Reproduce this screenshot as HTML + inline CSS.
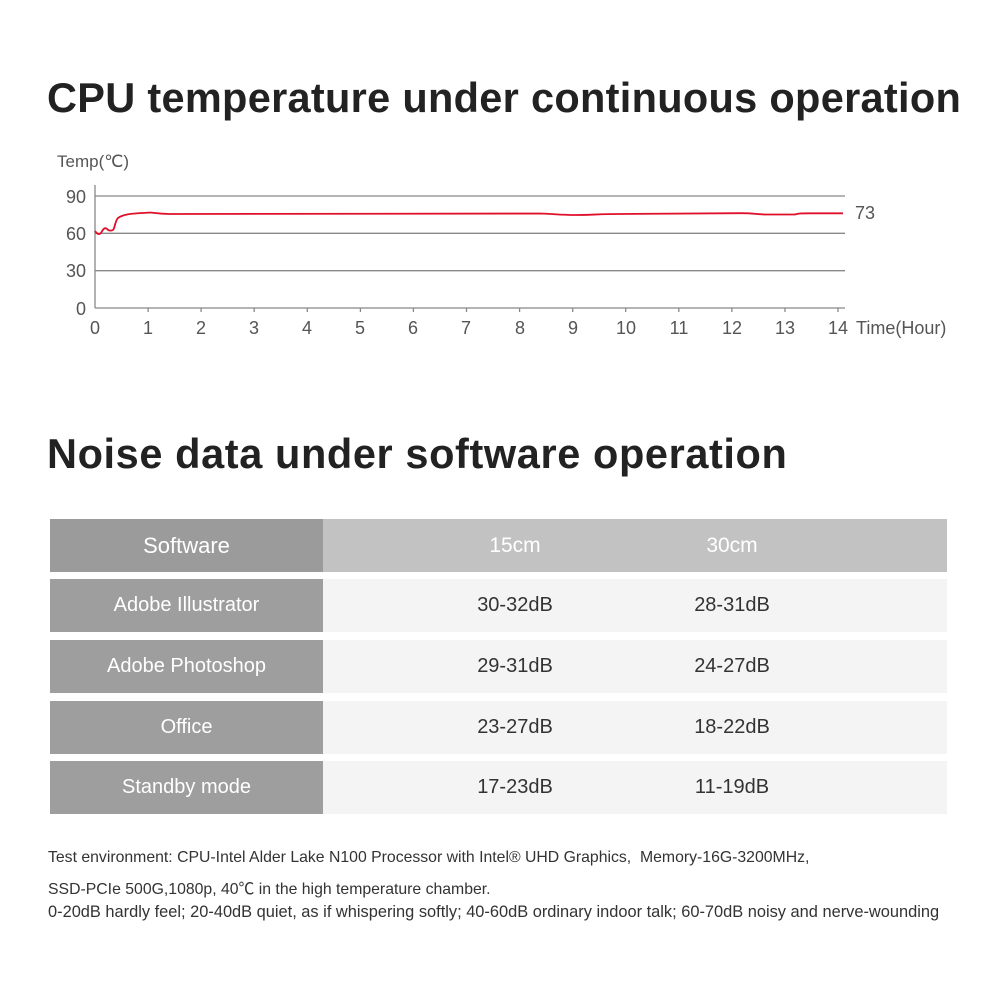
<!DOCTYPE html>
<html><head><meta charset="utf-8"><style>
body{margin:0;width:1000px;height:1000px;background:#fff;position:relative;font-family:"Liberation Sans","Noto Sans CJK SC",sans-serif;overflow:hidden}
.t{position:absolute;left:47px;font-size:41.5px;font-weight:bold;color:#222;white-space:nowrap;letter-spacing:0.6px}
.r{position:absolute;left:50px;width:897px;height:53px;display:flex}
.r div{display:flex;align-items:center;font-size:20px}
.l{width:273px;background:#9e9e9e;color:#fff;justify-content:center}
.v{flex:1;background:#f4f4f4;color:#333}
.v span{position:absolute;transform:translateX(-50%)}
.n{position:absolute;left:48px;font-size:15.8px;color:#333;white-space:nowrap}
</style></head><body>
<div class="t" style="top:74px;letter-spacing:0.3px">CPU temperature under continuous operation</div>
<svg style="position:absolute;left:0;top:0" width="1000" height="360" font-family="Liberation Sans, sans-serif" fill="#555">
<text x="57" y="167" font-size="17">Temp(℃)</text>
<g stroke="#888" stroke-width="1.3">
<line x1="95" y1="196" x2="845" y2="196"/><line x1="95" y1="233.3" x2="845" y2="233.3"/><line x1="95" y1="270.7" x2="845" y2="270.7"/><line x1="95" y1="308" x2="845" y2="308"/>
<line x1="95" y1="185" x2="95" y2="308"/>
</g>
<g stroke="#888" stroke-width="1.3">
<line x1="148.1" y1="308" x2="148.1" y2="312"/><line x1="201.1" y1="308" x2="201.1" y2="312"/><line x1="254.2" y1="308" x2="254.2" y2="312"/><line x1="307.3" y1="308" x2="307.3" y2="312"/><line x1="360.4" y1="308" x2="360.4" y2="312"/><line x1="413.4" y1="308" x2="413.4" y2="312"/><line x1="466.5" y1="308" x2="466.5" y2="312"/><line x1="519.6" y1="308" x2="519.6" y2="312"/><line x1="572.7" y1="308" x2="572.7" y2="312"/><line x1="625.7" y1="308" x2="625.7" y2="312"/><line x1="678.8" y1="308" x2="678.8" y2="312"/><line x1="731.9" y1="308" x2="731.9" y2="312"/><line x1="785" y1="308" x2="785" y2="312"/><line x1="838" y1="308" x2="838" y2="312"/>
</g>
<g font-size="18" text-anchor="end"><text x="86" y="203">90</text><text x="86" y="240">60</text><text x="86" y="277">30</text><text x="86" y="315">0</text></g>
<g font-size="18" text-anchor="middle"><text x="95" y="334">0</text><text x="148" y="334">1</text><text x="201" y="334">2</text><text x="254" y="334">3</text><text x="307" y="334">4</text><text x="360" y="334">5</text><text x="413" y="334">6</text><text x="466" y="334">7</text><text x="520" y="334">8</text><text x="573" y="334">9</text><text x="626" y="334">10</text><text x="679" y="334">11</text><text x="732" y="334">12</text><text x="785" y="334">13</text><text x="838" y="334">14</text></g>
<text x="856" y="334" font-size="18">Time(Hour)</text>
<text x="855" y="219" font-size="18">73</text>
<path d="M95,231 C97,234 99,235 101,233 C103,229 105,227 107,229 C109,231 111,231 113,230 C115,228 115,221 118,218 C122,215 128,214 135,213.5 C140,213 145,213 150,212.5 C155,213 160,214 170,214 L540,213.5 C555,214 560,215 575,215 C590,215 600,214 620,214 L740,213.2 C750,213 755,214 765,214.5 L795,214.5 C798,213.5 800,213.3 810,213.3 L843,213.3" fill="none" stroke="#e0102a" stroke-width="1.8"/>
</svg>
<div class="t" style="top:430px">Noise data under software operation</div>
<div class="r" style="top:519px"><div class="l" style="background:#9b9b9b;font-size:22px">Software</div><div class="v" style="background:#c2c2c2;color:#fff;font-size:21px"><span style="left:465px">15cm</span><span style="left:682px">30cm</span></div></div>
<div class="r" style="top:579px"><div class="l">Adobe Illustrator</div><div class="v"><span style="left:465px">30-32dB</span><span style="left:682px">28-31dB</span></div></div>
<div class="r" style="top:640px"><div class="l">Adobe Photoshop</div><div class="v"><span style="left:465px">29-31dB</span><span style="left:682px">24-27dB</span></div></div>
<div class="r" style="top:701px"><div class="l">Office</div><div class="v"><span style="left:465px">23-27dB</span><span style="left:682px">18-22dB</span></div></div>
<div class="r" style="top:761px"><div class="l">Standby mode</div><div class="v"><span style="left:465px">17-23dB</span><span style="left:682px">11-19dB</span></div></div>
<div class="n" style="top:849px">Test environment: CPU-Intel Alder Lake N100 Processor with Intel® UHD Graphics,&nbsp; Memory-16G-3200MHz,</div>
<div class="n" style="top:876px">SSD-PCIe 500G,1080p, 40℃ in the high temperature chamber.</div>
<div class="n" style="top:903px;font-size:16.4px">0-20dB hardly feel; 20-40dB quiet, as if whispering softly; 40-60dB ordinary indoor talk; 60-70dB noisy and nerve-wounding</div>
</body></html>
